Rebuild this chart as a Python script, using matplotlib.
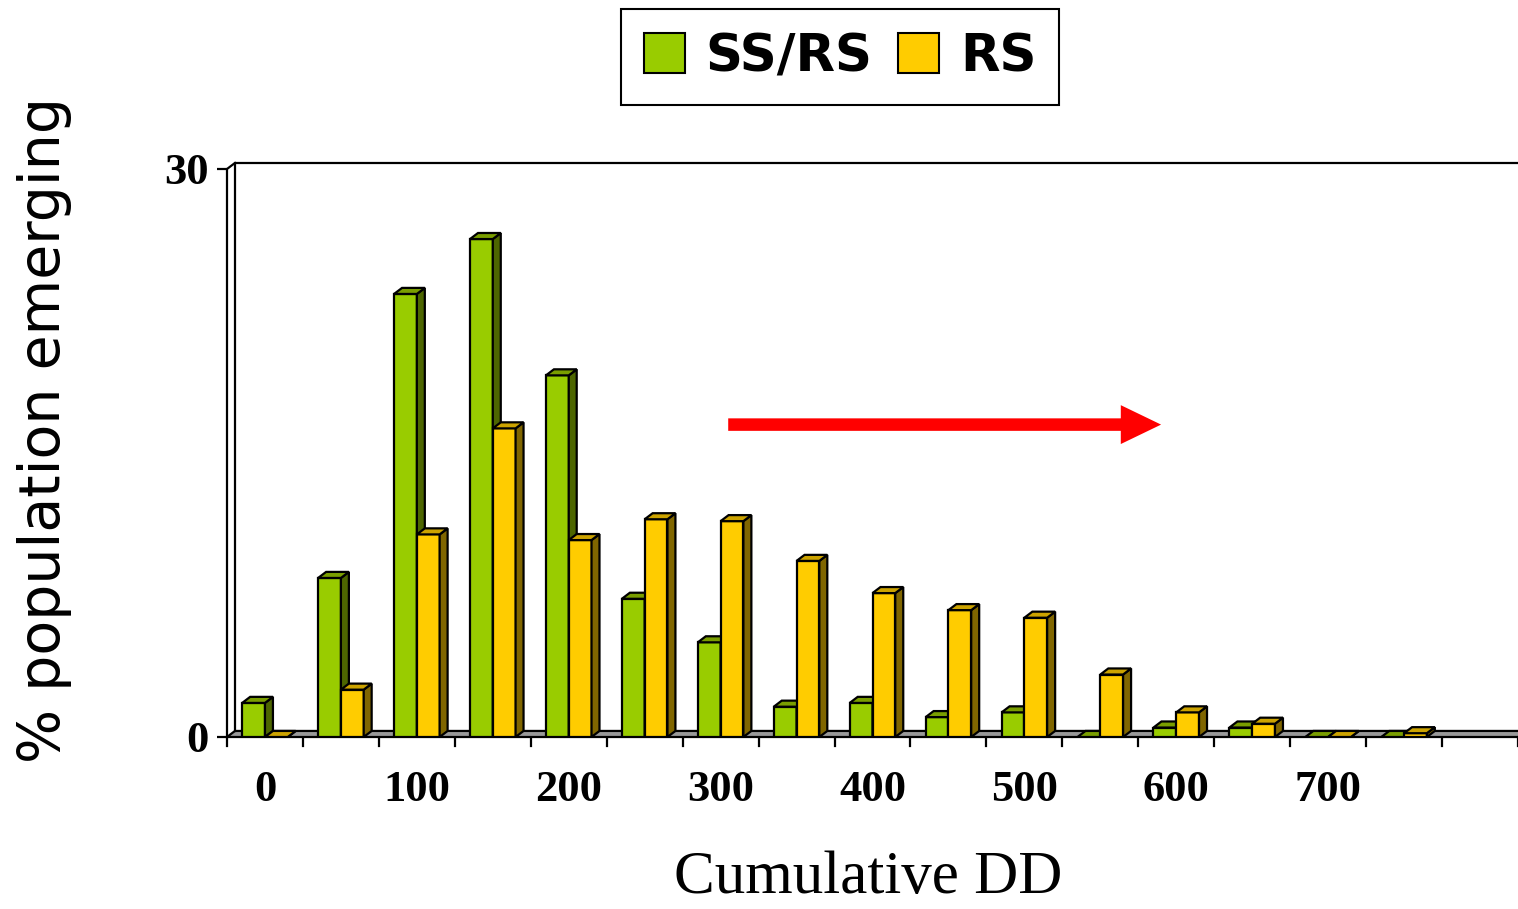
import matplotlib.pyplot as plt
from matplotlib.patches import Polygon, Patch

categories = [0, 50, 100, 150, 200, 250, 300, 350, 400, 450, 500, 550, 600, 650, 700, 750]
ss_rs = [1.8, 8.4, 23.4, 26.3, 19.1, 7.3, 5.0, 1.6, 1.8, 1.05, 1.3, 0.0, 0.5, 0.5, 0.0, 0.0]
rs = [0.0, 2.5, 10.7, 16.3, 10.4, 11.5, 11.4, 9.3, 7.6, 6.7, 6.3, 3.3, 1.3, 0.7, 0.0, 0.2]
tick_labels = ["0", "100", "200", "300", "400", "500", "600", "700"]

n_slots = len(categories) + 1
bar_w = 0.3
dx, dy = 0.105, 0.32

fig = plt.figure(figsize=(15.18, 9.09), dpi=100)
ax = fig.add_axes([227 / 1518, 172 / 909, 1291 / 1518, 568 / 909])
ax.set_xlim(-0.5, n_slots - 0.5)
ax.set_ylim(0, 30)
for s in ax.spines.values():
    s.set_visible(False)

lw = 1.6
# back wall, left wall, floor
x0 = -0.5
x_end = n_slots - 0.5
ax.add_patch(Polygon([(x0, 0), (x_end, 0), (x_end + dx, dy), (x0 + dx, dy)],
                     closed=True, facecolor="#999999", edgecolor="black", lw=lw, clip_on=False, zorder=1))
ax.plot([x0 + dx, x0 + dx, x_end + dx], [dy, 30 + dy, 30 + dy], color="black", lw=lw, clip_on=False, zorder=1)
ax.plot([x0, x0, x0 + dx], [0, 30, 30 + dy], color="black", lw=lw, clip_on=False, zorder=1)


def draw_bar(x, h, front, side, top):
    ax.bar(x, h, width=bar_w, align="edge", color=front, edgecolor="black", lw=lw, zorder=3)
    x1 = x + bar_w
    ax.add_patch(Polygon([(x1, 0), (x1 + dx, dy), (x1 + dx, h + dy), (x1, h)],
                         closed=True, facecolor=side, edgecolor="black", lw=lw, zorder=3))
    ax.add_patch(Polygon([(x, h), (x1, h), (x1 + dx, h + dy), (x + dx, h + dy)],
                         closed=True, facecolor=top, edgecolor="black", lw=lw, zorder=3))


for i in range(len(categories)):
    draw_bar(i - bar_w, ss_rs[i], "#99CC00", "#4D6600", "#7A9E00")
    draw_bar(i, rs[i], "#FFCC00", "#806600", "#CCA300")

# red arrow
ax.annotate("", xy=(11.8, 16.5), xytext=(6.1, 16.5),
            arrowprops=dict(arrowstyle="simple,head_width=2.8,head_length=2.9,tail_width=0.9",
                            color="#FF0000", lw=0, shrinkA=0, shrinkB=0), zorder=5)

ax.set_yticks([0, 30])
ax.set_yticklabels(["0", "30"], fontsize=32, fontweight="bold", family="Liberation Serif")
ax.tick_params(axis="y", length=7, width=1.6, pad=6)

ax.set_xticks(range(0, len(categories), 2))
ax.set_xticklabels(tick_labels, fontsize=32, fontweight="bold", family="Liberation Serif")
ax.tick_params(axis="x", length=0, pad=24)
for b in range(n_slots + 1):
    ax.plot([b - 0.5, b - 0.5], [-0.1, -0.5], color="black", lw=1.6, clip_on=False)

fig.text(868 / 1518, 1 - 878 / 909, "Cumulative DD", fontsize=44, family="Liberation Serif",
         ha="center", va="center")
fig.text(0.029, 1 - 430 / 909, "% population emerging", rotation=90, fontsize=41,
         family="DejaVu Sans", ha="center", va="center")

handles = [Patch(facecolor="#99CC00", edgecolor="black", lw=1.5),
           Patch(facecolor="#FFCC00", edgecolor="black", lw=1.5)]
leg = fig.legend(handles, ["SS/RS", "RS"], loc="center", bbox_to_anchor=(840 / 1518, 1 - 57 / 909),
                 ncol=2, fancybox=False, edgecolor="black", framealpha=1,
                 prop={"family": "DejaVu Sans", "weight": "bold", "size": 37},
                 handlelength=0.8, handleheight=0.8, handletextpad=0.4, columnspacing=0.5,
                 borderpad=0.45)
leg.get_frame().set_linewidth(1.5)

fig.savefig("out.png", dpi=100)
